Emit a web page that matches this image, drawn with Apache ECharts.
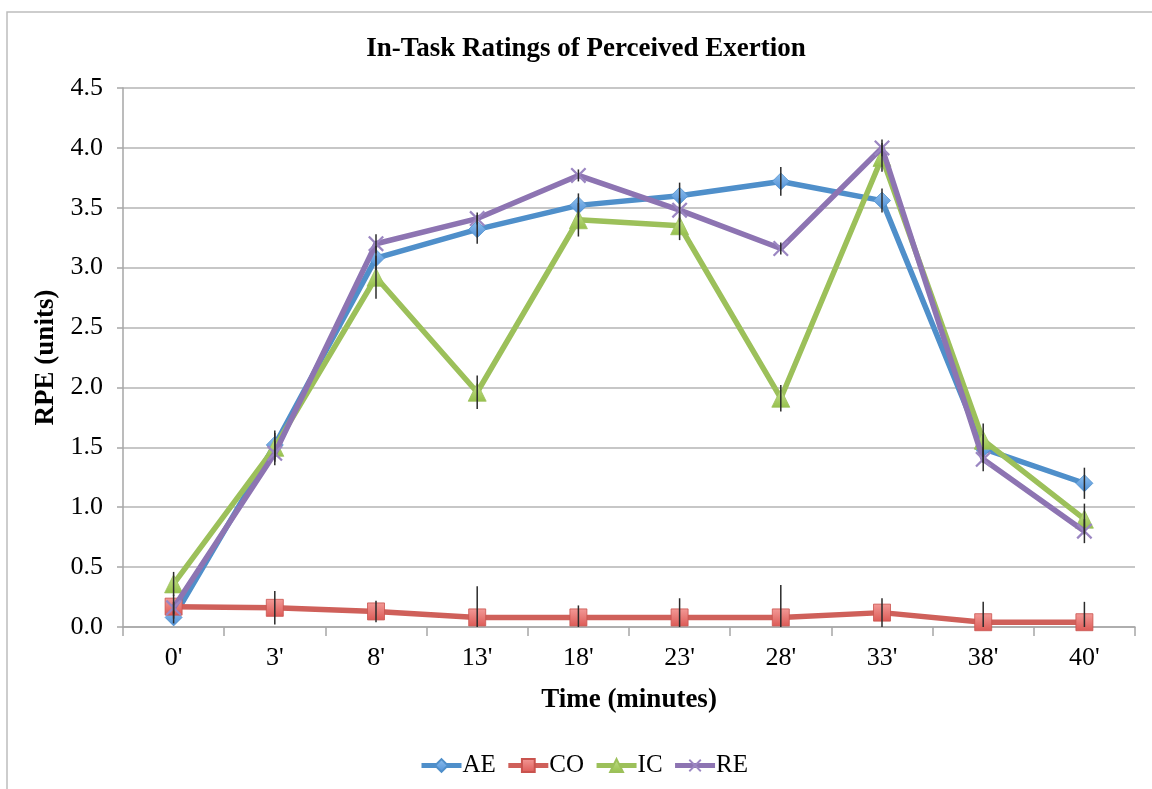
<!DOCTYPE html>
<html>
<head>
<meta charset="utf-8">
<script src="https://cdn.jsdelivr.net/npm/echarts@6/dist/echarts.min.js"></script>
<style>
html,body{margin:0;padding:0;background:#fff;}
#main{width:1152px;height:789px;}
</style>
</head>
<body>
<div id="main"></div>
<script>
var categories = ["0'", "3'", "8'", "13'", "18'", "23'", "28'", "33'", "38'", "40'"];
var seriesNames = ["AE", "CO", "IC", "RE"];
var aeValues = [0.08, 1.52, 3.08, 3.32, 3.52, 3.60, 3.72, 3.56, 1.49, 1.20];
var coValues = [0.17, 0.16, 0.13, 0.08, 0.08, 0.08, 0.08, 0.12, 0.04, 0.04];
var icValues = [0.36, 1.50, 2.92, 1.96, 3.40, 3.35, 1.91, 3.92, 1.56, 0.90];
var reValues = [0.16, 1.45, 3.20, 3.41, 3.77, 3.48, 3.16, 4.00, 1.40, 0.80];
var aeErrors = [0.05, 0.12, 0.10, 0.12, 0.10, 0.11, 0.12, 0.10, 0.12, 0.13];
var coErrors = [0.10, 0.14, 0.09, 0.26, 0.10, 0.16, 0.27, 0.12, 0.17, 0.17];
var icErrors = [0.10, 0.12, 0.18, 0.14, 0.14, 0.12, 0.11, 0.12, 0.14, 0.13];
var reErrors = [0.05, 0.10, 0.08, 0.05, 0.05, 0.10, 0.05, 0.07, 0.10, 0.10];
var yTicks = {min: 0, max: 4.5, interval: 0.5};

var serif = "'Liberation Serif', 'Times New Roman', serif";
var crossPath = 'path://M0,1 L1,0 L10,9 L9,10 Z M9,0 L10,1 L1,10 L0,9 Z';

function grad(top, bottom) {
  return new echarts.graphic.LinearGradient(0, 0, 0, 1, [
    {offset: 0, color: top}, {offset: 1, color: bottom}
  ]);
}

var styles = {
  AE: {line: '#4f8fca', symbol: 'diamond', size: 17, fill: grad('#8fc0ef', '#4f8fd6'), border: '#4f8fca'},
  CO: {line: '#cf605a', symbol: 'rect', size: 17, fill: grad('#f39a97', '#dc5a56'), border: '#c9534e'},
  IC: {line: '#9cc05a', symbol: 'triangle', size: 18, fill: grad('#c4e08c', '#96c04c'), border: '#9cc05a'},
  RE: {line: '#8d74b2', symbol: crossPath, size: 16, fill: '#9b86c2', border: '#9b86c2'}
};

var valueMap = {AE: aeValues, CO: coValues, IC: icValues, RE: reValues};
var errorMap = {AE: aeErrors, CO: coErrors, IC: icErrors, RE: reErrors};

var series = [];
seriesNames.forEach(function (name, idx) {
  var st = styles[name];
  series.push({
    name: name,
    type: 'line',
    data: valueMap[name],
    symbol: st.symbol,
    symbolSize: st.size,
    showAllSymbol: true,
    z: 3 + idx,
    lineStyle: {color: st.line, width: 5.5},
    itemStyle: {color: st.fill, borderColor: st.border, borderWidth: name === 'RE' ? 0 : 0.8},
    emphasis: {disabled: true}
  });
});

seriesNames.forEach(function (name) {
  var vals = valueMap[name];
  var errs = errorMap[name];
  var data = vals.map(function (v, i) { return [i, Math.max(0, v - errs[i]), v + errs[i]]; });
  series.push({
    name: name + ' error',
    type: 'custom',
    z: 8,
    silent: true,
    data: data,
    encode: {x: 0, y: [1, 2]},
    renderItem: function (params, api) {
      var lo = api.coord([api.value(0), api.value(1)]);
      var hi = api.coord([api.value(0), api.value(2)]);
      return {
        type: 'line',
        shape: {x1: lo[0], y1: lo[1], x2: hi[0], y2: hi[1]},
        style: {stroke: '#2b2b2b', lineWidth: 1.5}
      };
    }
  });
});

var chart = echarts.init(document.getElementById('main'), null, {renderer: 'canvas'});
chart.setOption({
  backgroundColor: '#ffffff',
  animation: false,
  graphic: [{
    type: 'rect',
    shape: {x: 7, y: 12, width: 1160, height: 800},
    style: {fill: 'none', stroke: '#bdbdbd', lineWidth: 1.5},
    silent: true, z: -10
  }],
  title: {
    text: 'In-Task Ratings of Perceived Exertion',
    left: 581, top: 31, textAlign: 'center',
    textStyle: {fontFamily: serif, fontSize: 27, fontWeight: 'bold', color: '#000'}
  },
  legend: {
    data: seriesNames,
    bottom: 6,
    left: 414,
    itemWidth: 40,
    itemHeight: 16,
    itemGap: 10,
    lineStyle: {width: 5},
    textStyle: {fontFamily: serif, fontSize: 25, color: '#000', padding: [0, 0, 0, -4]}
  },
  grid: {left: 123, right: 17, top: 88, bottom: 162, containLabel: false},
  xAxis: {
    type: 'category',
    data: categories,
    boundaryGap: true,
    name: 'Time (minutes)',
    nameLocation: 'middle',
    nameGap: 60,
    nameTextStyle: {fontFamily: serif, fontSize: 27, fontWeight: 'bold', color: '#000'},
    axisLine: {lineStyle: {color: '#a6a6a6', width: 1.5}},
    axisTick: {show: true, length: 9, lineStyle: {color: '#a6a6a6', width: 1.5}},
    axisLabel: {fontFamily: serif, fontSize: 26, color: '#000', margin: 18},
    splitLine: {show: false}
  },
  yAxis: {
    type: 'value',
    min: yTicks.min, max: yTicks.max, interval: yTicks.interval,
    name: 'RPE (units)',
    nameLocation: 'middle',
    nameGap: 51,
    nameRotate: 90,
    nameTextStyle: {fontFamily: serif, fontSize: 27, fontWeight: 'bold', color: '#000'},
    axisLine: {show: true, lineStyle: {color: '#a6a6a6', width: 1.5}},
    axisTick: {show: true, length: 6, lineStyle: {color: '#a6a6a6', width: 1.5}},
    axisLabel: {fontFamily: serif, fontSize: 26, color: '#000', margin: 20,
      formatter: function (v) { return v.toFixed(1); }},
    splitLine: {show: true, lineStyle: {color: '#b5b5b5', width: 1.5}}
  },
  series: series
});
</script>
</body>
</html>
